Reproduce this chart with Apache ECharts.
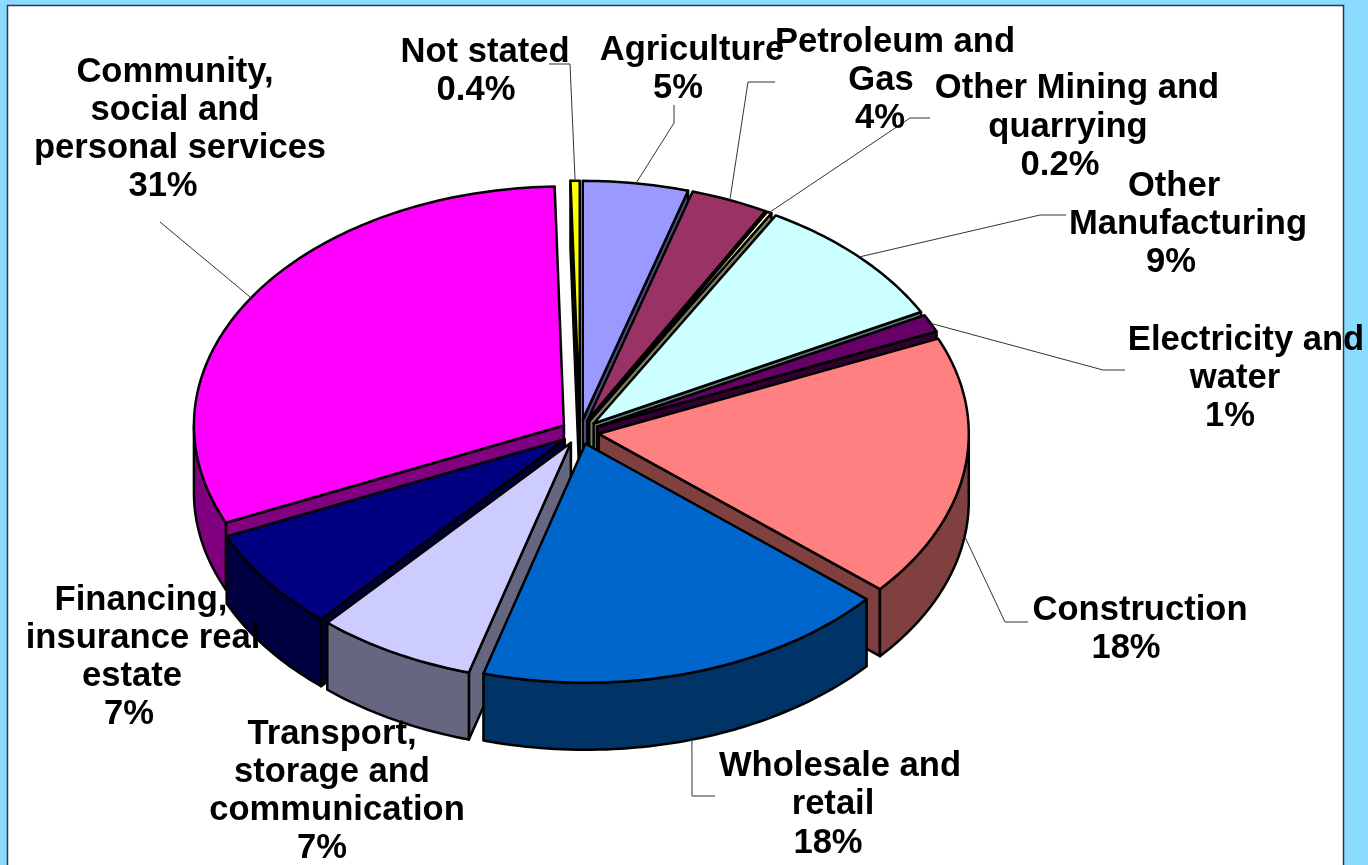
<!DOCTYPE html>
<html>
<head>
<meta charset="utf-8">
<style>html,body{margin:0;padding:0;background:#8ADBFF;overflow:hidden}#c{width:1368px;height:865px}</style>
<script src="https://cdn.jsdelivr.net/npm/echarts@6/dist/echarts.min.js"></script>
</head>
<body>
<div id="c"></div>
<script>
// ---- data (clockwise from 12 o'clock) ----
const categories = ['Agriculture','Petroleum and Gas','Other Mining and quarrying','Other Manufacturing','Electricity and water','Construction','Wholesale and retail','Transport, storage and communication','Financing, insurance real estate','Community, social and personal services','Not stated'];
const shares = [4.6,3.4,0.2,9.1,1.2,17.8,18.2,7.0,6.9,31.3,0.4];
const shareLabels = ['5%','4%','0.2%','9%','1%','18%','18%','7%','7%','31%','0.4%'];

// ---- styles ----
const topColors  = ['#9999FF','#993366','#FFFFCC','#CCFFFF','#660066','#FF8080','#0066CC','#CCCCFF','#000080','#FF00FF','#FFFF00'];
const sideColors = ['#4D4D80','#4D1A33','#808066','#668080','#330033','#804040','#003366','#666680','#000040','#800080','#808000'];

// ---- layout of the projected pie ----
const cx = 580, cy = 432, rx = 370, ry = 239, depth = 67, explode = 19;
// label lines: [text, centre x, centre y], last line filled from shareLabels
const labelLines = [
  [['Agriculture',692,50],[678,88]],
  [['Petroleum and',895,42],['Gas',881,80],[880,118]],
  [['Other Mining and',1077,88],['quarrying',1068,127],[1060,165]],
  [['Other',1174,186],['Manufacturing',1188,224],[1171,262]],
  [['Electricity and',1246,340],['water',1235,378],[1230,416]],
  [['Construction',1140,610],[1126,648]],
  [['Wholesale and',840,766],['retail',833,804],[828,843]],
  [['Transport,',332,734],['storage and',332,772],['communication',337,810],[322,848]],
  [['Financing,',141,600],['insurance real',143,638],['estate',132,676],[129,714]],
  [['Community,',175,72],['social and',175,110],['personal services',180,148],[163,186]],
  [['Not stated',485,52],[476,90]]
];
// leader lines: label-side points; the pie end comes from the slice's angle
const leaderPaths = [
  [[674,105],[674,123]],
  [[775,82],[748,82]],
  [[930,118],[910,118]],
  [[1066,215],[1040,215]],
  [[1125,370],[1103,370]],
  [[1028,622],[1005,622]],
  [[715,796],[692,796]],
  null,
  null,
  [[160,222]],
  [[549,64],[570,64]]
];

const total = shares.reduce((a,b)=>a+b,0);
let run = 0;
const slices = shares.map((v,i)=>{
  const s = run/total*Math.PI*2; run += v;
  const e = run/total*Math.PI*2; const m=(s+e)/2;
  return {i,s,e,m,ax:cx+explode*Math.sin(m),ay:cy-explode*ry/rx*Math.cos(m)};
});
const rim = (sl,t,d)=>[sl.ax+rx*Math.sin(t), sl.ay-ry*Math.cos(t)+(d||0)];
function arc(sl,a,b,d){
  const n=Math.max(2,Math.ceil(Math.abs(b-a)/0.02)), p=[];
  for(let k=0;k<=n;k++) p.push(rim(sl,a+(b-a)*k/n,d));
  return p;
}
const drawOrder = slices.slice().sort((a,b)=>Math.cos(b.m)-Math.cos(a.m)).map(s=>s.i);
const edge={stroke:'#000',lineWidth:2.5,lineJoin:'round'};

function renderSlice(params,api){
  const sl=slices[api.value(0)], i=sl.i, kids=[];
  const side=sideColors[i], top=topColors[i], A=[sl.ax,sl.ay], Ad=[sl.ax,sl.ay+depth];
  const poly=(pts,fill)=>({type:'polygon',shape:{points:pts},style:Object.assign({fill},edge)});
  if(sl.s>Math.PI){ const p=rim(sl,sl.s); kids.push(poly([A,p,[p[0],p[1]+depth],Ad],side)); }
  if(sl.e<Math.PI){ const p=rim(sl,sl.e); kids.push(poly([A,p,[p[0],p[1]+depth],Ad],side)); }
  const a=Math.max(sl.s,Math.PI/2), b=Math.min(sl.e,Math.PI*1.5);
  if(b>a){ kids.push(poly(arc(sl,a,b,0).concat(arc(sl,b,a,depth)),side)); }
  kids.push(poly([A].concat(arc(sl,sl.s,sl.e,0)),top));
  return {type:'group',children:kids};
}
function renderLeader(params,api){
  const sl=slices[api.value(0)], path=leaderPaths[sl.i];
  if(!path) return {type:'group',children:[]};
  const onFront=Math.cos(sl.m)<0;
  const end=rim(sl,sl.m,onFront?depth:0);
  return {type:'polyline',shape:{points:path.concat([end])},style:{fill:'none',stroke:'#333',lineWidth:1}};
}
function renderLabel(params,api){
  const i=api.value(0), lines=labelLines[i];
  return {type:'group',children:lines.map(l=>{
    const isShare=l.length===2;
    return {type:'text',style:{
      text:isShare?shareLabels[i]:l[0],
      x:isShare?l[0]:l[1], y:isShare?l[1]:l[2],
      align:'center',verticalAlign:'middle',fill:'#000',
      font:'bold 34.6px "Liberation Sans", Arial, sans-serif'}};
  })};
}

const chart=echarts.init(document.getElementById('c'),null,{width:1368,height:865});
chart.setOption({
  animation:false,
  backgroundColor:'#8ADBFF',
  tooltip:{show:false},
  graphic:[{type:'rect',z:-1,silent:true,shape:{x:7.5,y:5.5,width:1336,height:900},
    style:{fill:'#fff',stroke:'#2B3A42',lineWidth:1.5}}],
  series:[
    {type:'custom',name:'Share by industry',coordinateSystem:'none',z:2,silent:true,clip:false,
     renderItem:renderSlice,data:drawOrder.map(i=>({name:categories[i],value:[i,shares[i]]}))},
    {type:'custom',name:'Leaders',coordinateSystem:'none',z:3,silent:true,clip:false,
     renderItem:renderLeader,data:categories.map((c,i)=>[i])},
    {type:'custom',name:'Labels',coordinateSystem:'none',z:4,silent:true,clip:false,
     renderItem:renderLabel,data:categories.map((c,i)=>[i])}
  ]
});
</script>
</body>
</html>
